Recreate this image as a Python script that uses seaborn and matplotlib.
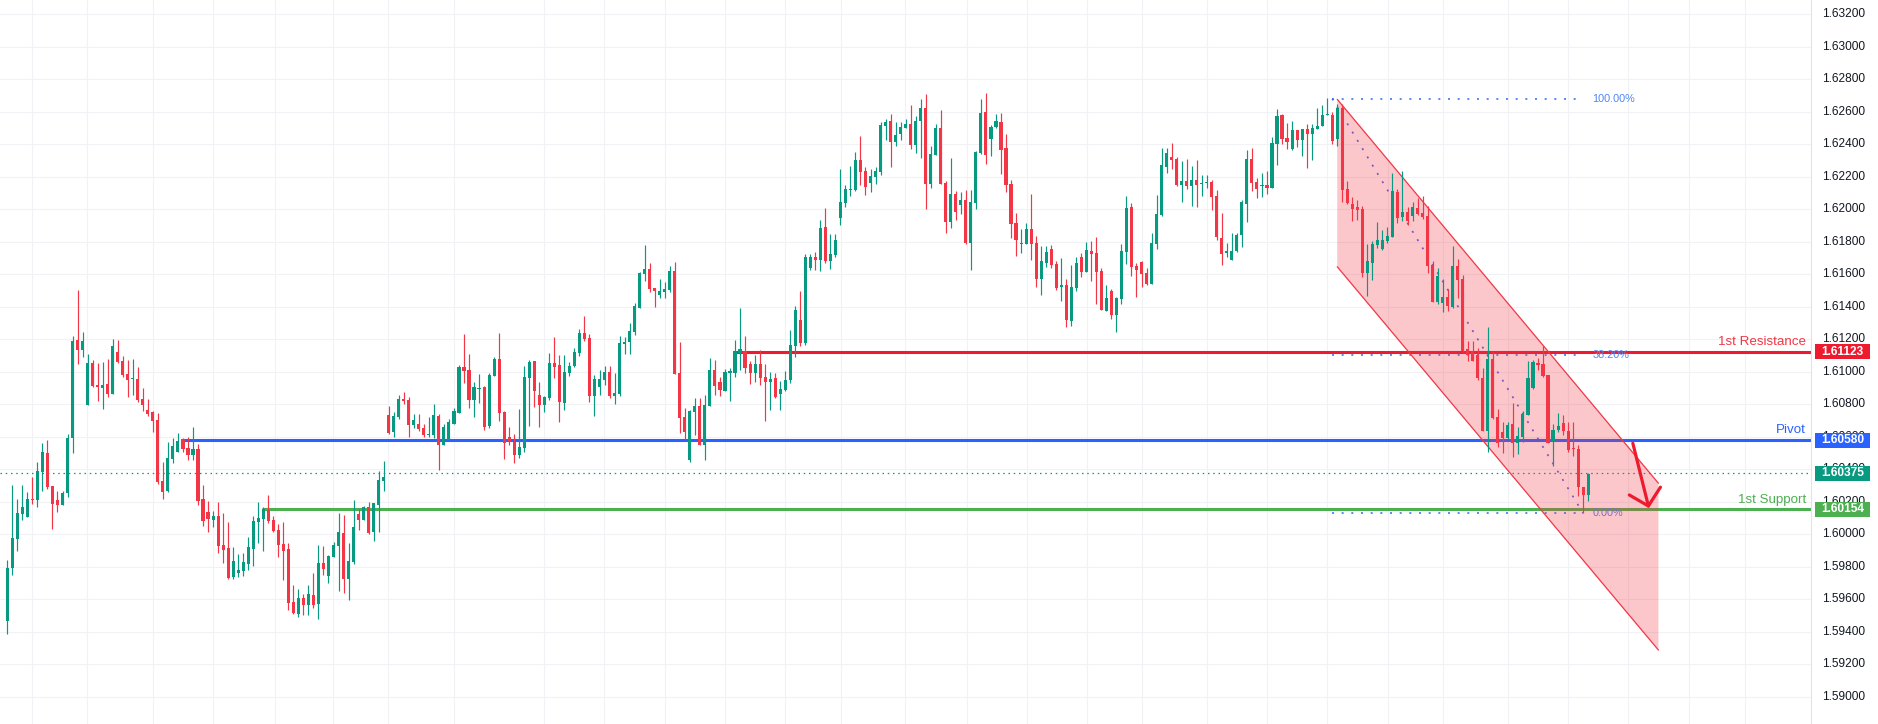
import matplotlib
matplotlib.use("Agg")
import matplotlib.pyplot as plt
import matplotlib.transforms as mtransforms
from matplotlib.patches import Polygon, Rectangle
import numpy as np
import pandas as pd
import seaborn as sns

# ---------------- data ----------------
opens = [
    1.59469, 1.59793, 1.59971, 1.60125, 1.60107, 1.60217, 1.60211, 1.60384, 1.60500, 1.60297,
    1.60211, 1.60180, 1.60254, 1.60593, 1.61196, 1.61134, 1.60796, 1.61054, 1.60913, 1.60900,
    1.60925, 1.60863, 1.61122, 1.61067, 1.60987, 1.60956, 1.60956, 1.60833, 1.60765, 1.60753,
    1.60703, 1.60328, 1.60267, 1.60464, 1.60507, 1.60587, 1.60531, 1.60488, 1.60525, 1.60217,
    1.60137, 1.60088, 1.60113, 1.59934, 1.59916, 1.59737, 1.59762, 1.59774, 1.59817, 1.59910,
    1.60076, 1.60094, 1.60150, 1.60088, 1.60027, 1.59938, 1.59908, 1.59582, 1.59508, 1.59606,
    1.59563, 1.59625, 1.59569, 1.59822, 1.59742, 1.59858, 1.59926, 1.60006, 1.59723, 1.59828,
    1.60123, 1.60086, 1.60166, 1.60012, 1.60178, 1.60326, 1.60732, 1.60628, 1.60720, 1.60831,
    1.60825, 1.60671, 1.60677, 1.60652, 1.60611, 1.60609, 1.60726, 1.60548, 1.60578, 1.60677,
    1.60745, 1.61028, 1.61009, 1.60825, 1.60896, 1.60904, 1.60665, 1.60972, 1.61077, 1.60751,
    1.60597, 1.60566, 1.60486, 1.60529, 1.60960, 1.61064, 1.60855, 1.60794, 1.60837, 1.61052,
    1.61040, 1.60806, 1.60991, 1.61034, 1.61114, 1.61237, 1.61206, 1.60849, 1.60904, 1.60948,
    1.60997, 1.60849, 1.60861, 1.61169, 1.61181, 1.61243, 1.61391, 1.61600, 1.61631, 1.61514,
    1.61471, 1.61489, 1.61501, 1.61618, 1.60991, 1.60720, 1.60455, 1.60751, 1.60788, 1.60548,
    1.60788, 1.61009, 1.60935, 1.60880, 1.60995, 1.60991, 1.61114, 1.61126, 1.61048, 1.60991,
    1.61048, 1.60966, 1.60935, 1.60960, 1.60861, 1.60886, 1.60948, 1.61157, 1.61317, 1.61175,
    1.61637, 1.61704, 1.61686, 1.61889, 1.61680, 1.61717, 1.61943, 1.62036, 1.62120, 1.62116,
    1.62300, 1.62233, 1.62159, 1.62196, 1.62226, 1.62510, 1.62540, 1.62411, 1.62460, 1.62497,
    1.62522, 1.62393, 1.62540, 1.62620, 1.62153, 1.62331, 1.62497, 1.62159, 1.61919, 1.62091,
    1.62023, 1.62054, 1.61790, 1.62036, 1.62343, 1.62596, 1.62430, 1.62503, 1.62534, 1.62374,
    1.62153, 1.61913, 1.61786, 1.61783, 1.61876, 1.61790, 1.61568, 1.61667, 1.61753, 1.61660,
    1.61519, 1.61531, 1.61310, 1.61513, 1.61703, 1.61611, 1.61740, 1.61728, 1.61617, 1.61371,
    1.61494, 1.61347, 1.61445, 1.61734, 1.62011, 1.61648, 1.61673, 1.61605, 1.61537, 1.61783,
    1.61962, 1.62257, 1.62319, 1.62306, 1.62147, 1.62171, 1.62140, 1.62177, 1.62155, 1.62161,
    1.62165, 1.62079, 1.61820, 1.61728, 1.61685, 1.61740, 1.61839, 1.62030, 1.62306, 1.62165,
    1.62142, 1.62147, 1.62128, 1.62399, 1.62577, 1.62436, 1.62368, 1.62485, 1.62423, 1.62491,
    1.62460, 1.62491, 1.62510, 1.62579, 1.62577, 1.62430, 1.62620, 1.62122, 1.62030, 1.62011,
    1.61999, 1.61605, 1.61667, 1.61777, 1.61755, 1.61804, 1.61829, 1.62105, 1.61952, 1.61982,
    1.61958, 1.62007, 1.61976, 1.61958, 1.61656, 1.61429, 1.61423, 1.61459, 1.61398, 1.61650,
    1.61570, 1.61139, 1.61127, 1.61103, 1.60962, 1.60637, 1.61078, 1.60723, 1.60631, 1.60594,
    1.60680, 1.60564, 1.60600, 1.60735, 1.60900, 1.61054, 1.61047, 1.60980, 1.60570, 1.60643,
    1.60686, 1.60637, 1.60527, 1.60527, 1.60288, 1.60239,
]
highs = [
    1.59842, 1.60304, 1.60217, 1.60304, 1.60260, 1.60353, 1.60445, 1.60562, 1.60580, 1.60297,
    1.60267, 1.60267, 1.60617, 1.61220, 1.61503, 1.61245, 1.61110, 1.61073, 1.61054, 1.61060,
    1.61079, 1.61202, 1.61196, 1.61097, 1.61073, 1.61079, 1.61030, 1.60900, 1.60833, 1.60759,
    1.60747, 1.60445, 1.60568, 1.60593, 1.60624, 1.60593, 1.60599, 1.60660, 1.60556, 1.60304,
    1.60205, 1.60144, 1.60199, 1.60131, 1.60076, 1.59922, 1.59879, 1.59885, 1.59984, 1.60113,
    1.60199, 1.60168, 1.60242, 1.60113, 1.60064, 1.60074, 1.59945, 1.59686, 1.59662, 1.59631,
    1.59686, 1.59760, 1.59932, 1.59926, 1.59871, 1.59951, 1.60129, 1.60117, 1.59945, 1.60209,
    1.60154, 1.60172, 1.60197, 1.60191, 1.60388, 1.60449, 1.60788, 1.60751, 1.60855, 1.60874,
    1.60843, 1.60738, 1.60738, 1.60677, 1.60720, 1.60800, 1.60738, 1.60677, 1.60708, 1.60775,
    1.61040, 1.61231, 1.61108, 1.60935, 1.60984, 1.60911, 1.60991, 1.61089, 1.61237, 1.60757,
    1.60658, 1.60615, 1.60769, 1.61034, 1.61071, 1.61064, 1.60935, 1.60849, 1.61114, 1.61212,
    1.61101, 1.61101, 1.61058, 1.61144, 1.61261, 1.61341, 1.61231, 1.60978, 1.61009, 1.61034,
    1.61034, 1.60991, 1.61218, 1.61212, 1.61298, 1.61421, 1.61612, 1.61778, 1.61667, 1.61514,
    1.61569, 1.61551, 1.61649, 1.61674, 1.61181, 1.60775, 1.60763, 1.60837, 1.60837, 1.60855,
    1.61083, 1.61071, 1.60966, 1.61015, 1.61021, 1.61194, 1.61391, 1.61218, 1.61064, 1.61101,
    1.61132, 1.61046, 1.60997, 1.60991, 1.60941, 1.61003, 1.61255, 1.61403, 1.61495, 1.61723,
    1.61723, 1.61735, 1.61932, 1.62006, 1.61846, 1.61846, 1.62245, 1.62147, 1.62263, 1.62350,
    1.62448, 1.62257, 1.62245, 1.62257, 1.62534, 1.62553, 1.62583, 1.62534, 1.62534, 1.62553,
    1.62639, 1.62571, 1.62676, 1.62706, 1.62386, 1.62522, 1.62608, 1.62171, 1.62313, 1.62110,
    1.62103, 1.62116, 1.62116, 1.62356, 1.62676, 1.62713, 1.62516, 1.62583, 1.62590, 1.62460,
    1.62177, 1.61974, 1.61876, 1.61913, 1.62091, 1.61833, 1.61771, 1.61771, 1.61777, 1.61679,
    1.61697, 1.61568, 1.61654, 1.61703, 1.61728, 1.61796, 1.61802, 1.61827, 1.61636, 1.61531,
    1.61507, 1.61457, 1.61783, 1.62079, 1.62036, 1.61667, 1.61679, 1.61636, 1.61851, 1.62085,
    1.62374, 1.62374, 1.62405, 1.62319, 1.62294, 1.62306, 1.62263, 1.62300, 1.62208, 1.62208,
    1.62177, 1.62116, 1.61974, 1.61790, 1.61851, 1.61851, 1.62054, 1.62362, 1.62374, 1.62190,
    1.62220, 1.62233, 1.62442, 1.62614, 1.62583, 1.62528, 1.62540, 1.62485, 1.62491, 1.62522,
    1.62522, 1.62620, 1.62639, 1.62682, 1.62596, 1.62645, 1.62645, 1.62171, 1.62073, 1.62054,
    1.62017, 1.61783, 1.61802, 1.61919, 1.61872, 1.61890, 1.62222, 1.62124, 1.62235, 1.62013,
    1.62044, 1.62069, 1.62081, 1.62019, 1.61681, 1.61638, 1.61570, 1.61509, 1.61773, 1.61693,
    1.61595, 1.61189, 1.61189, 1.61146, 1.61023, 1.61274, 1.61127, 1.60772, 1.60692, 1.60692,
    1.60809, 1.60662, 1.60760, 1.61066, 1.61072, 1.61084, 1.61158, 1.60980, 1.60680, 1.60747,
    1.60735, 1.60692, 1.60692, 1.60551, 1.60288, 1.60380,
]
lows = [
    1.59387, 1.59752, 1.59897, 1.60088, 1.60107, 1.60187, 1.60168, 1.60267, 1.60279, 1.60033,
    1.60137, 1.60180, 1.60230, 1.60500, 1.61048, 1.61091, 1.60796, 1.60907, 1.60820, 1.60771,
    1.60845, 1.60863, 1.61054, 1.60968, 1.60845, 1.60857, 1.60814, 1.60759, 1.60728, 1.60630,
    1.60310, 1.60217, 1.60260, 1.60439, 1.60507, 1.60507, 1.60457, 1.60457, 1.60180, 1.60051,
    1.60014, 1.60045, 1.59885, 1.59824, 1.59725, 1.59725, 1.59737, 1.59744, 1.59781, 1.59805,
    1.59947, 1.59897, 1.60070, 1.60014, 1.59861, 1.59717, 1.59532, 1.59508, 1.59489, 1.59502,
    1.59502, 1.59545, 1.59477, 1.59748, 1.59699, 1.59858, 1.59649, 1.59637, 1.59594, 1.59815,
    1.60025, 1.60086, 1.60000, 1.59957, 1.60012, 1.60265, 1.60615, 1.60597, 1.60708, 1.60800,
    1.60597, 1.60652, 1.60634, 1.60597, 1.60597, 1.60591, 1.60394, 1.60548, 1.60578, 1.60677,
    1.60745, 1.60929, 1.60775, 1.60720, 1.60806, 1.60640, 1.60652, 1.60972, 1.60695, 1.60461,
    1.60548, 1.60437, 1.60468, 1.60505, 1.60665, 1.60781, 1.60658, 1.60751, 1.60825, 1.60960,
    1.60689, 1.60763, 1.60972, 1.61028, 1.61095, 1.61188, 1.60812, 1.60726, 1.60855, 1.60917,
    1.60837, 1.60800, 1.60849, 1.61108, 1.61108, 1.61224, 1.61391, 1.61557, 1.61489, 1.61397,
    1.61452, 1.61452, 1.61489, 1.60984, 1.60621, 1.60578, 1.60443, 1.60609, 1.60548, 1.60455,
    1.60788, 1.60855, 1.60849, 1.60880, 1.60818, 1.60966, 1.61009, 1.60991, 1.60923, 1.60935,
    1.60917, 1.60695, 1.60763, 1.60837, 1.60763, 1.60880, 1.60929, 1.61089, 1.61157, 1.61163,
    1.61624, 1.61624, 1.61618, 1.61667, 1.61631, 1.61704, 1.61900, 1.62011, 1.62079, 1.62110,
    1.62147, 1.62085, 1.62103, 1.62153, 1.62208, 1.62423, 1.62257, 1.62386, 1.62423, 1.62497,
    1.62368, 1.62343, 1.62313, 1.61999, 1.62128, 1.62331, 1.62153, 1.61851, 1.61882, 1.61931,
    1.61968, 1.61783, 1.61624, 1.61999, 1.62337, 1.62276, 1.62325, 1.62497, 1.62214, 1.62103,
    1.61820, 1.61710, 1.61728, 1.61783, 1.61685, 1.61519, 1.61470, 1.61642, 1.61636, 1.61500,
    1.61433, 1.61273, 1.61279, 1.61494, 1.61580, 1.61611, 1.61556, 1.61414, 1.61377, 1.61371,
    1.61322, 1.61242, 1.61414, 1.61660, 1.61587, 1.61457, 1.61519, 1.61531, 1.61537, 1.61753,
    1.61956, 1.62220, 1.62245, 1.62140, 1.62042, 1.62122, 1.62017, 1.62011, 1.62079, 1.62128,
    1.61993, 1.61808, 1.61654, 1.61703, 1.61685, 1.61734, 1.61765, 1.61919, 1.62110, 1.62067,
    1.62073, 1.62091, 1.62128, 1.62270, 1.62399, 1.62368, 1.62362, 1.62380, 1.62325, 1.62251,
    1.62300, 1.62491, 1.62510, 1.62577, 1.62399, 1.62386, 1.62042, 1.62030, 1.61925, 1.61931,
    1.61580, 1.61464, 1.61562, 1.61759, 1.61749, 1.61792, 1.61829, 1.61915, 1.61927, 1.61902,
    1.61927, 1.61964, 1.61939, 1.61607, 1.61429, 1.61416, 1.61367, 1.61373, 1.61392, 1.61453,
    1.61121, 1.61066, 1.61066, 1.60949, 1.60637, 1.60509, 1.60711, 1.60539, 1.60502, 1.60588,
    1.60478, 1.60496, 1.60570, 1.60735, 1.60894, 1.61011, 1.60968, 1.60564, 1.60423, 1.60631,
    1.60613, 1.60509, 1.60484, 1.60233, 1.60129, 1.60202,
]
closes = [
    1.59793, 1.59977, 1.60131, 1.60168, 1.60217, 1.60211, 1.60390, 1.60507, 1.60291, 1.60187,
    1.60180, 1.60254, 1.60593, 1.61190, 1.61134, 1.61190, 1.61054, 1.60913, 1.60909, 1.60919,
    1.60863, 1.61159, 1.61060, 1.60980, 1.60950, 1.60962, 1.60827, 1.60796, 1.60740, 1.60697,
    1.60322, 1.60260, 1.60470, 1.60544, 1.60574, 1.60525, 1.60488, 1.60525, 1.60205, 1.60082,
    1.60094, 1.60113, 1.59928, 1.59904, 1.59731, 1.59836, 1.59781, 1.59830, 1.59922, 1.60082,
    1.60101, 1.60156, 1.60082, 1.60021, 1.59934, 1.59897, 1.59575, 1.59514, 1.59606, 1.59563,
    1.59631, 1.59563, 1.59822, 1.59785, 1.59865, 1.59932, 1.60012, 1.59723, 1.59834, 1.60043,
    1.60086, 1.60166, 1.60006, 1.60191, 1.60332, 1.60351, 1.60621, 1.60726, 1.60831, 1.60818,
    1.60671, 1.60701, 1.60646, 1.60609, 1.60615, 1.60732, 1.60548, 1.60658, 1.60689, 1.60757,
    1.61028, 1.61003, 1.60825, 1.60904, 1.60900, 1.60658, 1.60978, 1.61077, 1.60745, 1.60560,
    1.60566, 1.60486, 1.60535, 1.60966, 1.61058, 1.60880, 1.60794, 1.60843, 1.61052, 1.61028,
    1.60812, 1.60997, 1.61034, 1.61120, 1.61237, 1.61200, 1.60849, 1.60954, 1.60954, 1.60997,
    1.60849, 1.60868, 1.61175, 1.61181, 1.61249, 1.61403, 1.61606, 1.61631, 1.61507, 1.61495,
    1.61495, 1.61507, 1.61618, 1.60984, 1.60714, 1.60628, 1.60757, 1.60788, 1.60548, 1.60794,
    1.61009, 1.60911, 1.60886, 1.60997, 1.60999, 1.61126, 1.61138, 1.61021, 1.60991, 1.61048,
    1.60960, 1.60935, 1.60954, 1.60843, 1.60892, 1.60948, 1.61163, 1.61378, 1.61175, 1.61704,
    1.61704, 1.61686, 1.61883, 1.61680, 1.61723, 1.61809, 1.62042, 1.62122, 1.62124, 1.62300,
    1.62226, 1.62134, 1.62202, 1.62233, 1.62516, 1.62534, 1.62411, 1.62454, 1.62503, 1.62522,
    1.62393, 1.62540, 1.62620, 1.62153, 1.62337, 1.62497, 1.62153, 1.61919, 1.62091, 1.61980,
    1.62054, 1.61790, 1.62042, 1.62350, 1.62590, 1.62331, 1.62503, 1.62540, 1.62362, 1.62147,
    1.61907, 1.61808, 1.61790, 1.61876, 1.61783, 1.61568, 1.61679, 1.61734, 1.61654, 1.61513,
    1.61531, 1.61316, 1.61519, 1.61667, 1.61611, 1.61747, 1.61722, 1.61611, 1.61377, 1.61451,
    1.61347, 1.61451, 1.61740, 1.62005, 1.61642, 1.61624, 1.61599, 1.61537, 1.61790, 1.61968,
    1.62270, 1.62343, 1.62300, 1.62147, 1.62171, 1.62140, 1.62177, 1.62147, 1.62159, 1.62165,
    1.62073, 1.61827, 1.61722, 1.61740, 1.61740, 1.61839, 1.62042, 1.62306, 1.62159, 1.62122,
    1.62147, 1.62128, 1.62405, 1.62571, 1.62430, 1.62411, 1.62485, 1.62423, 1.62491, 1.62460,
    1.62497, 1.62510, 1.62577, 1.62583, 1.62417, 1.62620, 1.62116, 1.62036, 1.61999, 1.61993,
    1.61605, 1.61679, 1.61783, 1.61808, 1.61810, 1.61835, 1.62112, 1.61946, 1.61982, 1.61927,
    1.62013, 1.61970, 1.61952, 1.61650, 1.61429, 1.61589, 1.61459, 1.61404, 1.61650, 1.61564,
    1.61127, 1.61103, 1.61066, 1.60961, 1.60637, 1.61078, 1.60717, 1.60564, 1.60594, 1.60674,
    1.60564, 1.60607, 1.60741, 1.60962, 1.61060, 1.61041, 1.60974, 1.60564, 1.60643, 1.60668,
    1.60637, 1.60521, 1.60523, 1.60288, 1.60239, 1.60374,
]

price_ticks = [1.590, 1.592, 1.594, 1.596, 1.598, 1.600, 1.602, 1.604, 1.606, 1.608, 1.610,
               1.612, 1.614, 1.616, 1.618, 1.620, 1.622, 1.624, 1.626, 1.628, 1.630, 1.632]
time_grid = [4.9, 15.9, 29.0, 41.0, 53.3, 64.9, 75.9, 89.0, 107.0, 118.9, 131.1, 143.0, 155.0,
             166.1, 178.9, 191.3, 203.2, 215.2, 226.1, 239.1, 251.0, 263.0, 275.1, 286.0,
             299.0, 311.0, 322.9, 335.1, 346.3]

level_names = ["1st Resistance", "Pivot", "1st Support"]
level_prices = [1.61123, 1.60580, 1.60154]
level_starts = [144.7, 34.75, 50.7]
level_colors = ["#ee1a2e", "#2962ff", "#4caf50"]
level_text_colors = ["#f23645", "#2962ff", "#4caf50"]
last_price = 1.60375

fib_labels = ["100.00%", "38.20%", "0.00%"]
fib_prices = [1.62680, 1.61104, 1.60129]
fib_span = [264, 314]

channel_x = [265, 329]
channel_upper = [1.62676, 1.60314]
channel_lower = [1.61646, 1.59288]

arrow_shaft_x = [323.9, 327.0]
arrow_shaft_y = [1.60560, 1.60174]
arrow_head_x = [323.2, 327.0, 329.4]
arrow_head_y = [1.60242, 1.60174, 1.60290]

# ---------------- styling ----------------
GREEN = "#089981"
RED = "#f23645"
GRID = "#f0f2f6"
FIB = "#3b78f6"
TXT = "#131722"

sns.set_theme(style="white")
plt.rcParams['font.family'] = ['Liberation Sans', 'DejaVu Sans']

W, H = 1878, 724
fig = plt.figure(figsize=(W / 100, H / 100), dpi=100, facecolor="white")
ax = fig.add_axes([0, 0, 1811 / W, 1])
ax.set_facecolor("white")

x_lo, x_hi = -1.455, 359.4
y_lo, y_hi = 1.58833, 1.63287
ax.set_xlim(x_lo, x_hi)
ax.set_ylim(y_lo, y_hi)

# grid
for p in price_ticks:
    ax.axhline(p, color=GRID, lw=0.8, zorder=0)
for t in time_grid:
    ax.axvline(t, color=GRID, lw=0.8, zorder=0)

df = pd.DataFrame({"x": np.arange(len(opens)), "open": opens, "high": highs,
                   "low": lows, "close": closes})
df["up"] = df["close"] >= df["open"]
cols = np.where(df["up"], GREEN, RED)

# level lines (under the channel fill)
for name, p, s, c, tc in zip(level_names, level_prices, level_starts, level_colors,
                             level_text_colors):
    ax.hlines(p, s, x_hi, color=c, lw=2.2, zorder=2)
    ax.annotate(name, xy=(358.4, p), xytext=(0, 4.8), textcoords="offset points",
                ha="right", va="baseline", color=tc, fontsize=9.6, zorder=2)

# last price dotted line
ax.axhline(last_price, color=GREEN, lw=0.9, ls=(0, (1.2, 3.0)), zorder=2)

# fib retracement
for lab, p in zip(fib_labels, fib_prices):
    ax.hlines(p, fib_span[0], fib_span[1], color=FIB, lw=1.2, ls=(0, (1.2, 4.6)), zorder=2)
    ax.text(315.8, p, lab, ha="left", va="center", color="#4f86f7", fontsize=7.8, zorder=2)
ax.plot(fib_span, [fib_prices[0], fib_prices[2]], color="#4a5ff0", lw=1.2,
        ls=(0, (1.2, 4.6)), zorder=2)

# channel
poly = Polygon([(channel_x[0], channel_upper[0]), (channel_x[1], channel_upper[1]),
                (channel_x[1], channel_lower[1]), (channel_x[0], channel_lower[0])],
               closed=True, facecolor=RED, alpha=0.28, edgecolor="none", zorder=4)
ax.add_patch(poly)
ax.plot(channel_x, channel_upper, color=RED, lw=0.9, zorder=4.5)
ax.plot(channel_x, channel_lower, color=RED, lw=0.9, zorder=4.5)

# candles
ax.vlines(df["x"], df["low"], df["high"], colors=cols, lw=0.85, zorder=5)
body_bottom = np.minimum(df["open"], df["close"])
body_h = np.maximum((df["close"] - df["open"]).abs(), 0.00007)
ax.bar(df["x"], body_h, bottom=body_bottom, width=0.62, color=cols, linewidth=0, zorder=6)

# hand-drawn arrow
ax.plot(arrow_shaft_x, arrow_shaft_y, color="#ee1a2e", lw=2.3,
        solid_capstyle="round", zorder=8)
ax.plot(arrow_head_x, arrow_head_y, color="#ee1a2e", lw=2.3,
        solid_capstyle="round", solid_joinstyle="round", zorder=8)

# spines / ticks
for side in ["top", "left", "bottom"]:
    ax.spines[side].set_visible(False)
ax.spines["right"].set_color("#e0e3eb")
ax.spines["right"].set_linewidth(0.8)
ax.set_xticks([])
ax.set_yticks([])

# price scale on the right
trans = mtransforms.blended_transform_factory(fig.transFigure, ax.transData)
for p in price_ticks:
    ax.text(1822 / W, p, f"{p:.5f}", transform=trans, ha="left", va="center",
            fontsize=8.6, color=TXT, clip_on=False, zorder=9)

tag_vals = [level_prices[0], level_prices[1], last_price, level_prices[2]]
tag_cols = ["#ee1a2e", "#2962ff", GREEN, "#4caf50"]
tag_h = 15 / 16255
for v, c in zip(tag_vals, tag_cols):
    ax.add_patch(Rectangle((1815 / W, v - tag_h / 2), 55 / W, tag_h, transform=trans,
                           facecolor=c, edgecolor="none", clip_on=False, zorder=10))
    ax.text(1842.5 / W, v, f"{v:.5f}", transform=trans, ha="center", va="center",
            fontsize=8.6, color="white", fontweight="bold", clip_on=False, zorder=11)

fig.savefig("out.png", dpi=100, facecolor="white")
